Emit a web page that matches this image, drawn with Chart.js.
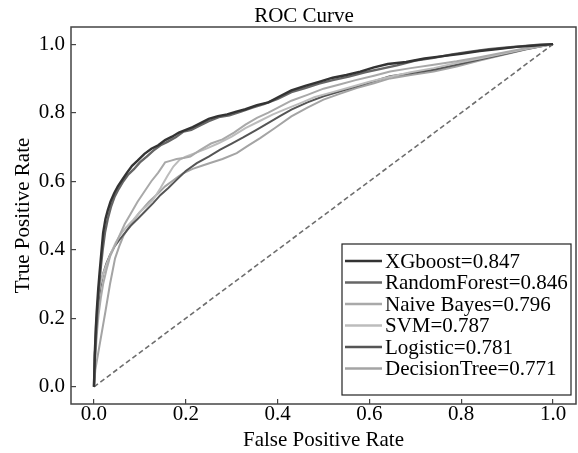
<!DOCTYPE html>
<html>
<head>
<meta charset="utf-8">
<title>ROC Curve</title>
<script src="https://cdn.jsdelivr.net/npm/chart.js@4.4.0/dist/chart.umd.min.js"></script>
<style>
  body { margin: 0; background: #fff; }
  .chart-wrapper { position: relative; width: 578px; height: 453px; }
</style>
</head>
<body>
<div class="chart-wrapper"><canvas id="rocChart"></canvas></div>
<script>
// ---- data ----
const tickVals = [0, 0.2, 0.4, 0.6, 0.8, 1.0];

const modelNames = ['XGboost', 'RandomForest', 'Naive Bayes', 'SVM', 'Logistic', 'DecisionTree'];
const modelAuc = [0.847, 0.846, 0.796, 0.787, 0.781, 0.771];

const xgFpr = [0, 0.002, 0.004, 0.006, 0.009, 0.012, 0.016, 0.02, 0.025, 0.03, 0.036, 0.044, 0.052, 0.062, 0.072, 0.083, 0.095, 0.11, 0.125, 0.14, 0.155, 0.17, 0.185, 0.2, 0.215, 0.23, 0.25, 0.27, 0.29, 0.31, 0.33, 0.355, 0.38, 0.405, 0.43, 0.46, 0.49, 0.52, 0.55, 0.58, 0.61, 0.64, 0.68, 0.72, 0.76, 0.8, 0.84, 0.88, 0.92, 0.96, 1];
const xgTpr = [0, 0.1, 0.17, 0.22, 0.28, 0.33, 0.39, 0.45, 0.49, 0.515, 0.54, 0.565, 0.585, 0.605, 0.625, 0.645, 0.66, 0.68, 0.695, 0.705, 0.72, 0.73, 0.742, 0.75, 0.758, 0.768, 0.782, 0.79, 0.795, 0.803, 0.81, 0.822, 0.83, 0.848, 0.865, 0.878, 0.89, 0.902, 0.91, 0.92, 0.932, 0.942, 0.948, 0.958, 0.965, 0.972, 0.98, 0.986, 0.992, 0.996, 1];

const rfFpr = [0, 0.002, 0.005, 0.008, 0.011, 0.015, 0.019, 0.024, 0.03, 0.037, 0.045, 0.054, 0.064, 0.075, 0.087, 0.1, 0.115, 0.13, 0.145, 0.16, 0.178, 0.195, 0.212, 0.23, 0.25, 0.272, 0.295, 0.32, 0.345, 0.37, 0.4, 0.43, 0.46, 0.49, 0.52, 0.555, 0.59, 0.625, 0.66, 0.7, 0.74, 0.78, 0.82, 0.86, 0.9, 0.94, 0.97, 1];
const rfTpr = [0, 0.09, 0.16, 0.23, 0.29, 0.35, 0.4, 0.45, 0.49, 0.525, 0.555, 0.578, 0.6, 0.62, 0.635, 0.655, 0.672, 0.69, 0.705, 0.715, 0.728, 0.745, 0.75, 0.762, 0.775, 0.787, 0.792, 0.803, 0.815, 0.825, 0.84, 0.86, 0.872, 0.885, 0.895, 0.905, 0.918, 0.928, 0.938, 0.952, 0.96, 0.97, 0.978, 0.985, 0.99, 0.995, 0.998, 1];

const nbFpr = [0, 0.003, 0.006, 0.01, 0.015, 0.02, 0.027, 0.035, 0.045, 0.055, 0.067, 0.08, 0.095, 0.11, 0.125, 0.14, 0.155, 0.168, 0.18, 0.195, 0.21, 0.23, 0.255, 0.28, 0.305, 0.33, 0.355, 0.38, 0.405, 0.43, 0.465, 0.5, 0.535, 0.57, 0.61, 0.645, 0.69, 0.74, 0.79, 0.84, 0.89, 0.94, 1];
const nbTpr = [0, 0.08, 0.15, 0.21, 0.26, 0.3, 0.34, 0.38, 0.41, 0.44, 0.475, 0.505, 0.54, 0.57, 0.6, 0.625, 0.655, 0.66, 0.665, 0.668, 0.672, 0.69, 0.71, 0.722, 0.742, 0.765, 0.785, 0.8, 0.818, 0.835, 0.852, 0.87, 0.882, 0.895, 0.908, 0.92, 0.93, 0.94, 0.95, 0.962, 0.975, 0.988, 1];

const svFpr = [0, 0.002, 0.005, 0.009, 0.014, 0.02, 0.028, 0.037, 0.047, 0.058, 0.07, 0.086, 0.1, 0.115, 0.129, 0.145, 0.16, 0.173, 0.187, 0.2, 0.22, 0.245, 0.27, 0.3, 0.33, 0.36, 0.39, 0.42, 0.45, 0.48, 0.52, 0.56, 0.6, 0.645, 0.69, 0.74, 0.79, 0.84, 0.89, 0.94, 1];
const svTpr = [0, 0.12, 0.2, 0.26, 0.3, 0.33, 0.36, 0.39, 0.42, 0.445, 0.465, 0.488, 0.51, 0.528, 0.546, 0.58, 0.615, 0.643, 0.663, 0.672, 0.682, 0.695, 0.71, 0.73, 0.755, 0.775, 0.795, 0.812, 0.828, 0.845, 0.86, 0.875, 0.89, 0.905, 0.918, 0.93, 0.945, 0.958, 0.972, 0.986, 1];

const lgFpr = [0, 0.002, 0.005, 0.009, 0.014, 0.02, 0.027, 0.035, 0.045, 0.056, 0.068, 0.08, 0.095, 0.11, 0.129, 0.145, 0.162, 0.18, 0.2, 0.224, 0.25, 0.275, 0.3, 0.325, 0.354, 0.38, 0.405, 0.43, 0.465, 0.5, 0.535, 0.572, 0.61, 0.645, 0.69, 0.74, 0.79, 0.84, 0.89, 0.94, 1];
const lgTpr = [0, 0.1, 0.18, 0.24, 0.29, 0.33, 0.36, 0.385, 0.41, 0.43, 0.45, 0.47, 0.49, 0.51, 0.536, 0.56, 0.58, 0.604, 0.63, 0.653, 0.672, 0.692, 0.71, 0.728, 0.75, 0.77, 0.79, 0.809, 0.83, 0.848, 0.862, 0.877, 0.892, 0.906, 0.915, 0.925, 0.94, 0.955, 0.97, 0.985, 1];

const dtFpr = [0, 0.003, 0.012, 0.025, 0.035, 0.046, 0.055, 0.064, 0.08, 0.1, 0.12, 0.14, 0.155, 0.17, 0.183, 0.195, 0.215, 0.235, 0.253, 0.28, 0.311, 0.335, 0.362, 0.395, 0.43, 0.465, 0.5, 0.535, 0.572, 0.61, 0.645, 0.69, 0.74, 0.79, 0.84, 0.89, 0.94, 1];
const dtTpr = [0, 0.05, 0.12, 0.22, 0.3, 0.375, 0.41, 0.44, 0.475, 0.51, 0.54, 0.565, 0.585, 0.6, 0.613, 0.624, 0.636, 0.645, 0.653, 0.665, 0.682, 0.703, 0.726, 0.756, 0.789, 0.815, 0.838, 0.855, 0.872, 0.886, 0.9, 0.91, 0.92, 0.935, 0.952, 0.968, 0.984, 1];

const diagX = [0, 1];
const diagY = [0, 1];

// ---- build chart ----
const lineColors = ['#333333', '#666666', '#a9a9a9', '#bcbcbc', '#555555', '#a4a4a4'];
const allFpr = [xgFpr, rfFpr, nbFpr, svFpr, lgFpr, dtFpr];
const allTpr = [xgTpr, rfTpr, nbTpr, svTpr, lgTpr, dtTpr];

const serif = 'Liberation Serif, Times New Roman, serif';
const toPts = (xs, ys) => xs.map((x, i) => ({ x: x, y: ys[i] }));

const datasets = modelNames.map((name, i) => ({
  label: name + '=' + modelAuc[i].toFixed(3),
  data: toPts(allFpr[i], allTpr[i]),
  borderColor: lineColors[i],
  borderWidth: i < 2 ? 2.4 : 2,
  pointRadius: 0,
  fill: false,
  tension: 0
}));
datasets.push({
  label: 'diag',
  skipLegend: true,
  data: toPts(diagX, diagY),
  borderColor: '#6e6e6e',
  borderWidth: 1.6,
  borderDash: [5, 3],
  pointRadius: 0,
  fill: false
});

// title, frame and legend box drawn like the original figure
const rocDecor = {
  id: 'rocDecor',
  afterDraw(chart) {
    const ctx = chart.ctx;
    const a = chart.chartArea;
    ctx.save();
    // frame
    ctx.strokeStyle = '#444';
    ctx.lineWidth = 1.5;
    ctx.strokeRect(a.left, a.top, a.right - a.left, a.bottom - a.top);
    // title
    ctx.fillStyle = '#000';
    ctx.font = '21px ' + serif;
    ctx.textAlign = 'center';
    ctx.textBaseline = 'alphabetic';
    ctx.fillText('ROC Curve', 304, 22);
    // legend
    const bx = a.right - 234, by = a.bottom - 160, bw = 229, bh = 151;
    ctx.fillStyle = '#fff';
    ctx.fillRect(bx, by, bw, bh);
    ctx.strokeStyle = '#222';
    ctx.lineWidth = 1.2;
    ctx.strokeRect(bx, by, bw, bh);
    ctx.textAlign = 'left';
    ctx.textBaseline = 'middle';
    let row = 0;
    chart.data.datasets.forEach(ds => {
      if (ds.skipLegend) return;
      const y = by + 17 + row * 21.5;
      ctx.strokeStyle = ds.borderColor;
      ctx.lineWidth = 2.5;
      ctx.beginPath();
      ctx.moveTo(bx + 3, y);
      ctx.lineTo(bx + 40, y);
      ctx.stroke();
      ctx.fillStyle = '#000';
      ctx.fillText(ds.label, bx + 43, y + 1);
      row++;
    });
    ctx.restore();
  }
};

const axisCommon = {
  type: 'linear',
  min: -0.05,
  max: 1.05,
  afterBuildTicks: s => { s.ticks = tickVals.map(v => ({ value: v })); },
  grid: { display: true, drawOnChartArea: false, drawTicks: true, tickLength: -5, color: '#444', lineWidth: 1.2 },
  border: { display: false }
};

new Chart(document.getElementById('rocChart'), {
  type: 'line',
  data: { datasets: datasets },
  plugins: [rocDecor],
  options: {
    responsive: true,
    maintainAspectRatio: false,
    animation: false,
    layout: { padding: { top: 27, right: 2, left: 0, bottom: 0 } },
    plugins: { legend: { display: false }, title: { display: false }, tooltip: { enabled: false } },
    scales: {
      x: Object.assign({}, axisCommon, {
        ticks: { callback: v => v.toFixed(1), font: { family: serif, size: 21 }, color: '#000', padding: 3, maxRotation: 0, autoSkip: false },
        title: { display: true, text: 'False Positive Rate', font: { family: serif, size: 21 }, color: '#000', padding: { top: 1, bottom: 0 } },
        afterFit: s => { s.height = 49; }
      }),
      y: Object.assign({}, axisCommon, {
        ticks: { callback: v => v.toFixed(1), font: { family: serif, size: 21 }, color: '#000', padding: 11, autoSkip: false },
        title: { display: true, text: 'True Positive Rate', font: { family: serif, size: 21 }, color: '#000', padding: { top: 11, bottom: 0 } },
        afterFit: s => { s.width = 71; }
      })
    }
  }
});
</script>
</body>
</html>
